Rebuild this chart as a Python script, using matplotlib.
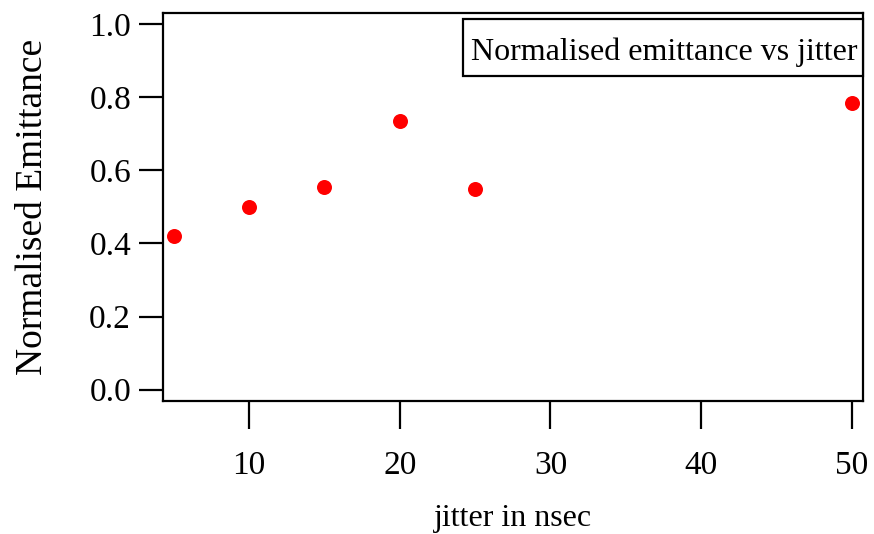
import matplotlib
matplotlib.use("Agg")
import matplotlib.pyplot as plt
from matplotlib.patches import Rectangle

jitter = [5, 10, 15, 20, 25, 50]
emittance = [0.420, 0.499, 0.553, 0.736, 0.548, 0.785]
x_ticks = [10, 20, 30, 40, 50]
y_ticks = [0.0, 0.2, 0.4, 0.6, 0.8, 1.0]
y_tick_labels = ["0.0", "0.2", "0.4", "0.6", "0.8", "1.0"]

plt.rcParams['font.family'] = ['Liberation Serif', 'DejaVu Serif']

fig = plt.figure(figsize=(8.74, 5.34), dpi=100)
ax = fig.add_axes([163/874, 1-401/534, (863-163)/874, (401-13)/534])

ax.plot(jitter, emittance, linestyle='none', marker='o', markersize=10.8,
        color='#ff0000', markeredgewidth=0)

ax.set_xlim(4.30, 50.73)
ax.set_ylim(-0.031, 1.030)
ax.set_xticks(x_ticks)
ax.set_xticklabels([str(v) for v in x_ticks])
ax.set_yticks(y_ticks)
ax.set_yticklabels(y_tick_labels)

for s in ax.spines.values():
    s.set_linewidth(1.6)
ax.tick_params(axis='x', direction='out', length=20, width=1.6, labelsize=24, pad=16)
ax.tick_params(axis='y', direction='out', length=17, width=1.6, labelsize=24, pad=6)

ax.set_xlabel('jitter in nsec', fontsize=23, labelpad=16)
ax.set_ylabel('Normalised Emittance', fontsize=27, labelpad=28)

# annotation box (Igor-style textbox)
box = Rectangle((0.4286, 0.8376), 1.0 - 0.4286, 0.9845 - 0.8376, transform=ax.transAxes,
                facecolor='white', edgecolor='black', linewidth=1.6, zorder=5,
                clip_on=False)
ax.add_patch(box)
ax.text(0.7157, 0.8789, 'Normalised emittance vs jitter', transform=ax.transAxes,
        ha='center', va='baseline', fontsize=23, zorder=6)

fig.savefig('out.png', dpi=100)
